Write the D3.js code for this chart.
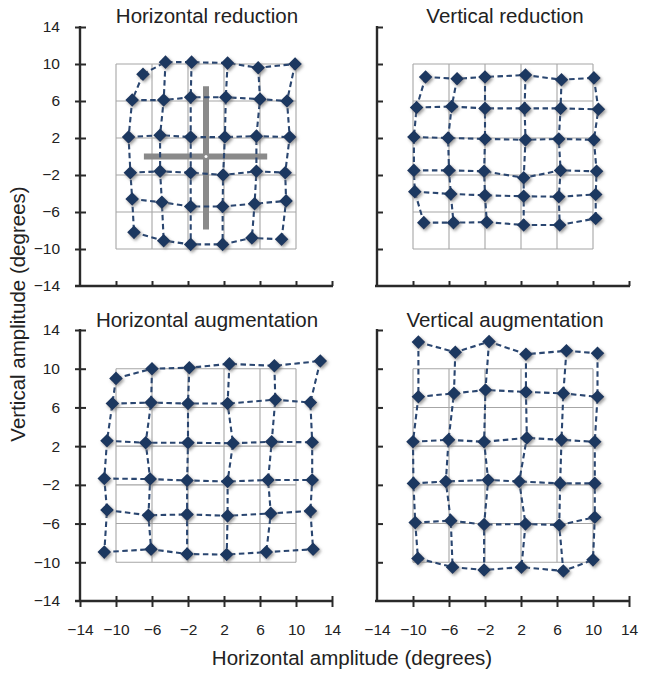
<!DOCTYPE html>
<html>
<head>
<meta charset="utf-8">
<script src="https://cdn.jsdelivr.net/npm/d3@7"></script>
<style>
  html, body { margin: 0; padding: 0; background: #fff; }
  svg { display: block; font-family: "Liberation Sans", Arial, Helvetica, sans-serif; }
</style>
</head>
<body>
<svg id="chart" width="645" height="674"></svg>
<script>
// ---------- data ----------
const axisTicks = [-14, -10, -6, -2, 2, 6, 10, 14];
const gridValues = [-10, -6, -2, 2, 6, 10];
const panelTitles = ["Horizontal reduction", "Vertical reduction", "Horizontal augmentation", "Vertical augmentation"];
const xAxisTitle = "Horizontal amplitude (degrees)";
const yAxisTitle = "Vertical amplitude (degrees)";

// fixation cross (Horizontal reduction panel): [start, end] in degrees
const crossHorizontal = [-6.9, 6.8];
const crossVertical = [7.6, -7.9];

// Horizontal reduction: rows top -> bottom, columns left -> right
const hRedX = [
  [-7.0, -4.5, -1.6, 2.4, 5.8, 9.9],
  [-8.2, -4.7, -1.7, 2.2, 6.0, 9.0],
  [-8.6, -5.1, -1.7, 2.1, 5.6, 9.3],
  [-8.4, -5.1, -1.7, 1.9, 5.6, 8.8],
  [-8.2, -4.9, -1.7, 1.85, 5.4, 8.9],
  [-8.0, -4.7, -1.7, 1.85, 5.1, 8.4]
];
const hRedY = [
  [8.9, 10.2, 10.2, 10.1, 9.6, 10.0],
  [6.1, 6.1, 6.4, 6.4, 6.2, 6.0],
  [2.1, 2.3, 2.1, 2.1, 2.2, 2.1],
  [-1.75, -1.6, -1.75, -2.0, -1.6, -1.75],
  [-4.6, -4.95, -5.4, -5.4, -5.1, -4.8],
  [-8.2, -9.1, -9.5, -9.5, -8.8, -8.95]
];

// Vertical reduction
const vRedX = [
  [-8.6, -5.1, -2.0, 2.5, 6.5, 10.1],
  [-9.6, -5.7, -2.0, 2.4, 6.4, 10.6],
  [-9.9, -6.1, -2.0, 2.5, 6.2, 10.1],
  [-9.9, -6.0, -2.1, 2.3, 6.4, 10.4],
  [-9.8, -5.8, -2.0, 2.3, 6.2, 10.3],
  [-8.8, -5.5, -1.8, 2.3, 6.3, 10.3]
];
const vRedY = [
  [8.6, 8.4, 8.6, 8.8, 8.3, 8.5],
  [5.3, 5.4, 5.2, 5.2, 5.2, 5.1],
  [2.1, 2.0, 1.9, 1.8, 1.9, 1.8],
  [-1.5, -1.5, -1.6, -2.3, -1.5, -1.6],
  [-3.8, -4.05, -4.2, -4.3, -4.35, -4.1],
  [-7.15, -7.15, -7.1, -7.4, -7.4, -6.7]
];

// Horizontal augmentation
const hAugX = [
  [-10.0, -6.0, -1.85, 2.6, 7.6, 12.7],
  [-10.4, -6.1, -2.0, 2.4, 7.7, 11.6],
  [-11.0, -6.7, -2.0, 3.0, 7.3, 11.8],
  [-11.3, -6.2, -2.1, 2.4, 6.9, 11.8],
  [-11.0, -6.4, -2.1, 2.4, 7.2, 11.6],
  [-11.3, -6.1, -2.1, 2.3, 6.7, 11.9]
];
const hAugY = [
  [9.0, 10.0, 10.1, 10.5, 10.3, 10.8],
  [6.4, 6.5, 6.4, 6.4, 6.8, 6.5],
  [2.55, 2.35, 2.35, 2.3, 2.45, 2.4],
  [-1.35, -1.4, -1.55, -1.65, -1.5, -1.5],
  [-4.6, -5.15, -5.05, -5.2, -4.95, -4.7],
  [-8.95, -8.65, -9.15, -9.2, -8.95, -8.65]
];

// Vertical augmentation
const vAugX = [
  [-9.4, -5.3, -1.55, 2.55, 7.05, 10.5],
  [-9.4, -5.45, -1.95, 2.55, 6.7, 10.5],
  [-10.0, -6.05, -2.1, 2.65, 6.5, 10.2],
  [-9.95, -6.35, -1.65, 1.8, 6.35, 10.2],
  [-9.75, -5.8, -2.1, 2.5, 6.25, 10.2],
  [-9.45, -5.6, -2.1, 2.05, 6.7, 10.0]
];
const vAugY = [
  [12.75, 11.7, 12.8, 11.5, 11.85, 11.6],
  [7.1, 7.45, 7.8, 7.6, 7.45, 7.1],
  [2.45, 2.65, 2.45, 2.85, 2.65, 2.45],
  [-1.85, -1.65, -1.5, -1.65, -1.85, -1.85],
  [-5.9, -5.7, -6.1, -6.05, -6.15, -5.35],
  [-9.6, -10.5, -10.8, -10.5, -10.9, -9.75]
];

// ---------- layout ----------
const colRanges = [[80, 332], [377, 629]];
const rowRanges = [[286, 27], [601, 330]];
const titleBaselines = [23, 327];
const titleCenters = [207, 505];

const markColor = "#1c3760";
const lineColor = "#2a4670";
const axisColor = "#2a2a2a";
const gridColor = "#a6a6a6";
const textColor = "#222";

const svg = d3.select("#chart");

const defs = svg.append("defs");
const f = defs.append("filter").attr("id", "shadow")
  .attr("x", "-60%").attr("y", "-60%").attr("width", "220%").attr("height", "220%");
f.append("feDropShadow").attr("dx", 1.5).attr("dy", 1.8).attr("stdDeviation", 1.5)
  .attr("flood-color", "#7a7a7a").attr("flood-opacity", 0.75);

const panels = [
  { title: panelTitles[0], xs: hRedX, ys: hRedY, col: 0, row: 0, cross: true },
  { title: panelTitles[1], xs: vRedX, ys: vRedY, col: 1, row: 0 },
  { title: panelTitles[2], xs: hAugX, ys: hAugY, col: 0, row: 1 },
  { title: panelTitles[3], xs: vAugX, ys: vAugY, col: 1, row: 1 }
];

const fmt = d3.format("d");
const diamond = "M0,-6.8L6.8,0L0,6.8L-6.8,0Z";
const tickFont = 15.5;

panels.forEach(p => {
  const x = d3.scaleLinear().domain([-14, 14]).range(colRanges[p.col]);
  const y = d3.scaleLinear().domain([-14, 14]).range(rowRanges[p.row]);
  const g = svg.append("g");
  const x0 = x(-14), y0 = y(-14);

  // grid
  const gx = d3.extent(gridValues);
  g.selectAll(".gv").data(gridValues).join("line")
    .attr("x1", d => x(d)).attr("x2", d => x(d))
    .attr("y1", y(gx[0])).attr("y2", y(gx[1]))
    .attr("stroke", gridColor).attr("stroke-width", 1.1);
  g.selectAll(".gh").data(gridValues).join("line")
    .attr("y1", d => y(d)).attr("y2", d => y(d))
    .attr("x1", x(gx[0])).attr("x2", x(gx[1]))
    .attr("stroke", gridColor).attr("stroke-width", 1.1);

  // fixation cross
  if (p.cross) {
    g.append("line").attr("x1", x(crossHorizontal[0])).attr("x2", x(crossHorizontal[1]))
      .attr("y1", y(0)).attr("y2", y(0)).attr("stroke", "#8a8a8a").attr("stroke-width", 6);
    g.append("line").attr("x1", x(0)).attr("x2", x(0))
      .attr("y1", y(crossVertical[0])).attr("y2", y(crossVertical[1])).attr("stroke", "#8a8a8a").attr("stroke-width", 6);
    g.append("circle").attr("cx", x(0)).attr("cy", y(0)).attr("r", 1.5).attr("fill", "#fff");
  }

  // axes
  const yAxis = d3.axisLeft(y).tickValues(axisTicks).tickFormat(fmt).tickSize(5).tickPadding(15);
  const ya = g.append("g").attr("transform", `translate(${x0},0)`).call(yAxis);
  const xAxis = d3.axisBottom(x).tickValues(axisTicks).tickFormat(fmt).tickSize(6).tickPadding(17);
  const xa = g.append("g").attr("transform", `translate(0,${y0})`).call(xAxis);

  [ya, xa].forEach(a => {
    a.select(".domain").remove();
    a.selectAll(".tick line").attr("stroke", axisColor).attr("stroke-width", 2);
    a.selectAll("text").attr("fill", textColor).attr("font-size", tickFont)
      .attr("font-family", "'Liberation Sans', Arial, Helvetica, sans-serif");
  });

  // y ticks: crossing for left column, inside-only for right column
  if (p.col === 0) {
    ya.selectAll(".tick line").attr("x1", 6).attr("x2", -5);
  } else {
    ya.selectAll(".tick line").attr("x1", 0).attr("x2", 6);
    ya.selectAll("text").remove();
  }
  ya.selectAll(".tick").filter(d => d === -14).select("line").remove();
  // x ticks: upward for top row, crossing for bottom row
  if (p.row === 0) {
    xa.selectAll(".tick line").attr("y1", 0).attr("y2", -5);
    xa.selectAll("text").remove();
  } else {
    xa.selectAll(".tick line").attr("y1", -5).attr("y2", 6);
  }
  if (p.col === 0) {
    xa.selectAll(".tick").filter(d => d === -14).select("line").attr("y1", -1).attr("y2", p.row === 1 ? 6 : 0);
    ya.append("line").attr("x1", -5).attr("x2", 0).attr("y1", y(-14)).attr("y2", y(-14))
      .attr("stroke", axisColor).attr("stroke-width", 2);
  } else {
    xa.selectAll(".tick").filter(d => d === -14).select("line").remove();
  }

  // axis lines
  g.append("line").attr("x1", x0).attr("x2", x0).attr("y1", y(14) - 1).attr("y2", y0 + 1)
    .attr("stroke", axisColor).attr("stroke-width", 2.4);
  g.append("line").attr("x1", x0 - (p.col === 0 ? 5 : 2)).attr("x2", x(14) + 1).attr("y1", y0).attr("y2", y0)
    .attr("stroke", axisColor).attr("stroke-width", 2.4);

  // dashed connecting lines
  const pts = p.xs.map((r, i) => r.map((vx, j) => [vx, p.ys[i][j]]));
  const line = d3.line().x(d => x(d[0])).y(d => y(d[1]));
  const rows = pts;
  const cols = d3.range(pts[0].length).map(j => pts.map(r => r[j]));
  g.selectAll(".rowline").data(rows.concat(cols)).join("path")
    .attr("d", line).attr("fill", "none")
    .attr("stroke", lineColor).attr("stroke-width", 2.1)
    .attr("stroke-dasharray", "5.5,3.5");

  // markers
  g.selectAll(".mk").data(pts.flat()).join("path")
    .attr("d", diamond)
    .attr("transform", d => `translate(${x(d[0])},${y(d[1])})`)
    .attr("fill", markColor)
    .attr("filter", "url(#shadow)");

  // title
  svg.append("text").attr("x", titleCenters[p.col]).attr("y", titleBaselines[p.row])
    .attr("text-anchor", "middle").attr("font-size", 20.5).attr("fill", textColor)
    .text(p.title);
});

// axis titles
svg.append("text").attr("x", 352).attr("y", 665).attr("text-anchor", "middle")
  .attr("font-size", 20.5).attr("fill", textColor).text(xAxisTitle);
svg.append("text").attr("transform", "translate(25,314) rotate(-90)").attr("text-anchor", "middle")
  .attr("font-size", 20.5).attr("fill", textColor).text(yAxisTitle);
</script>
</body>
</html>
